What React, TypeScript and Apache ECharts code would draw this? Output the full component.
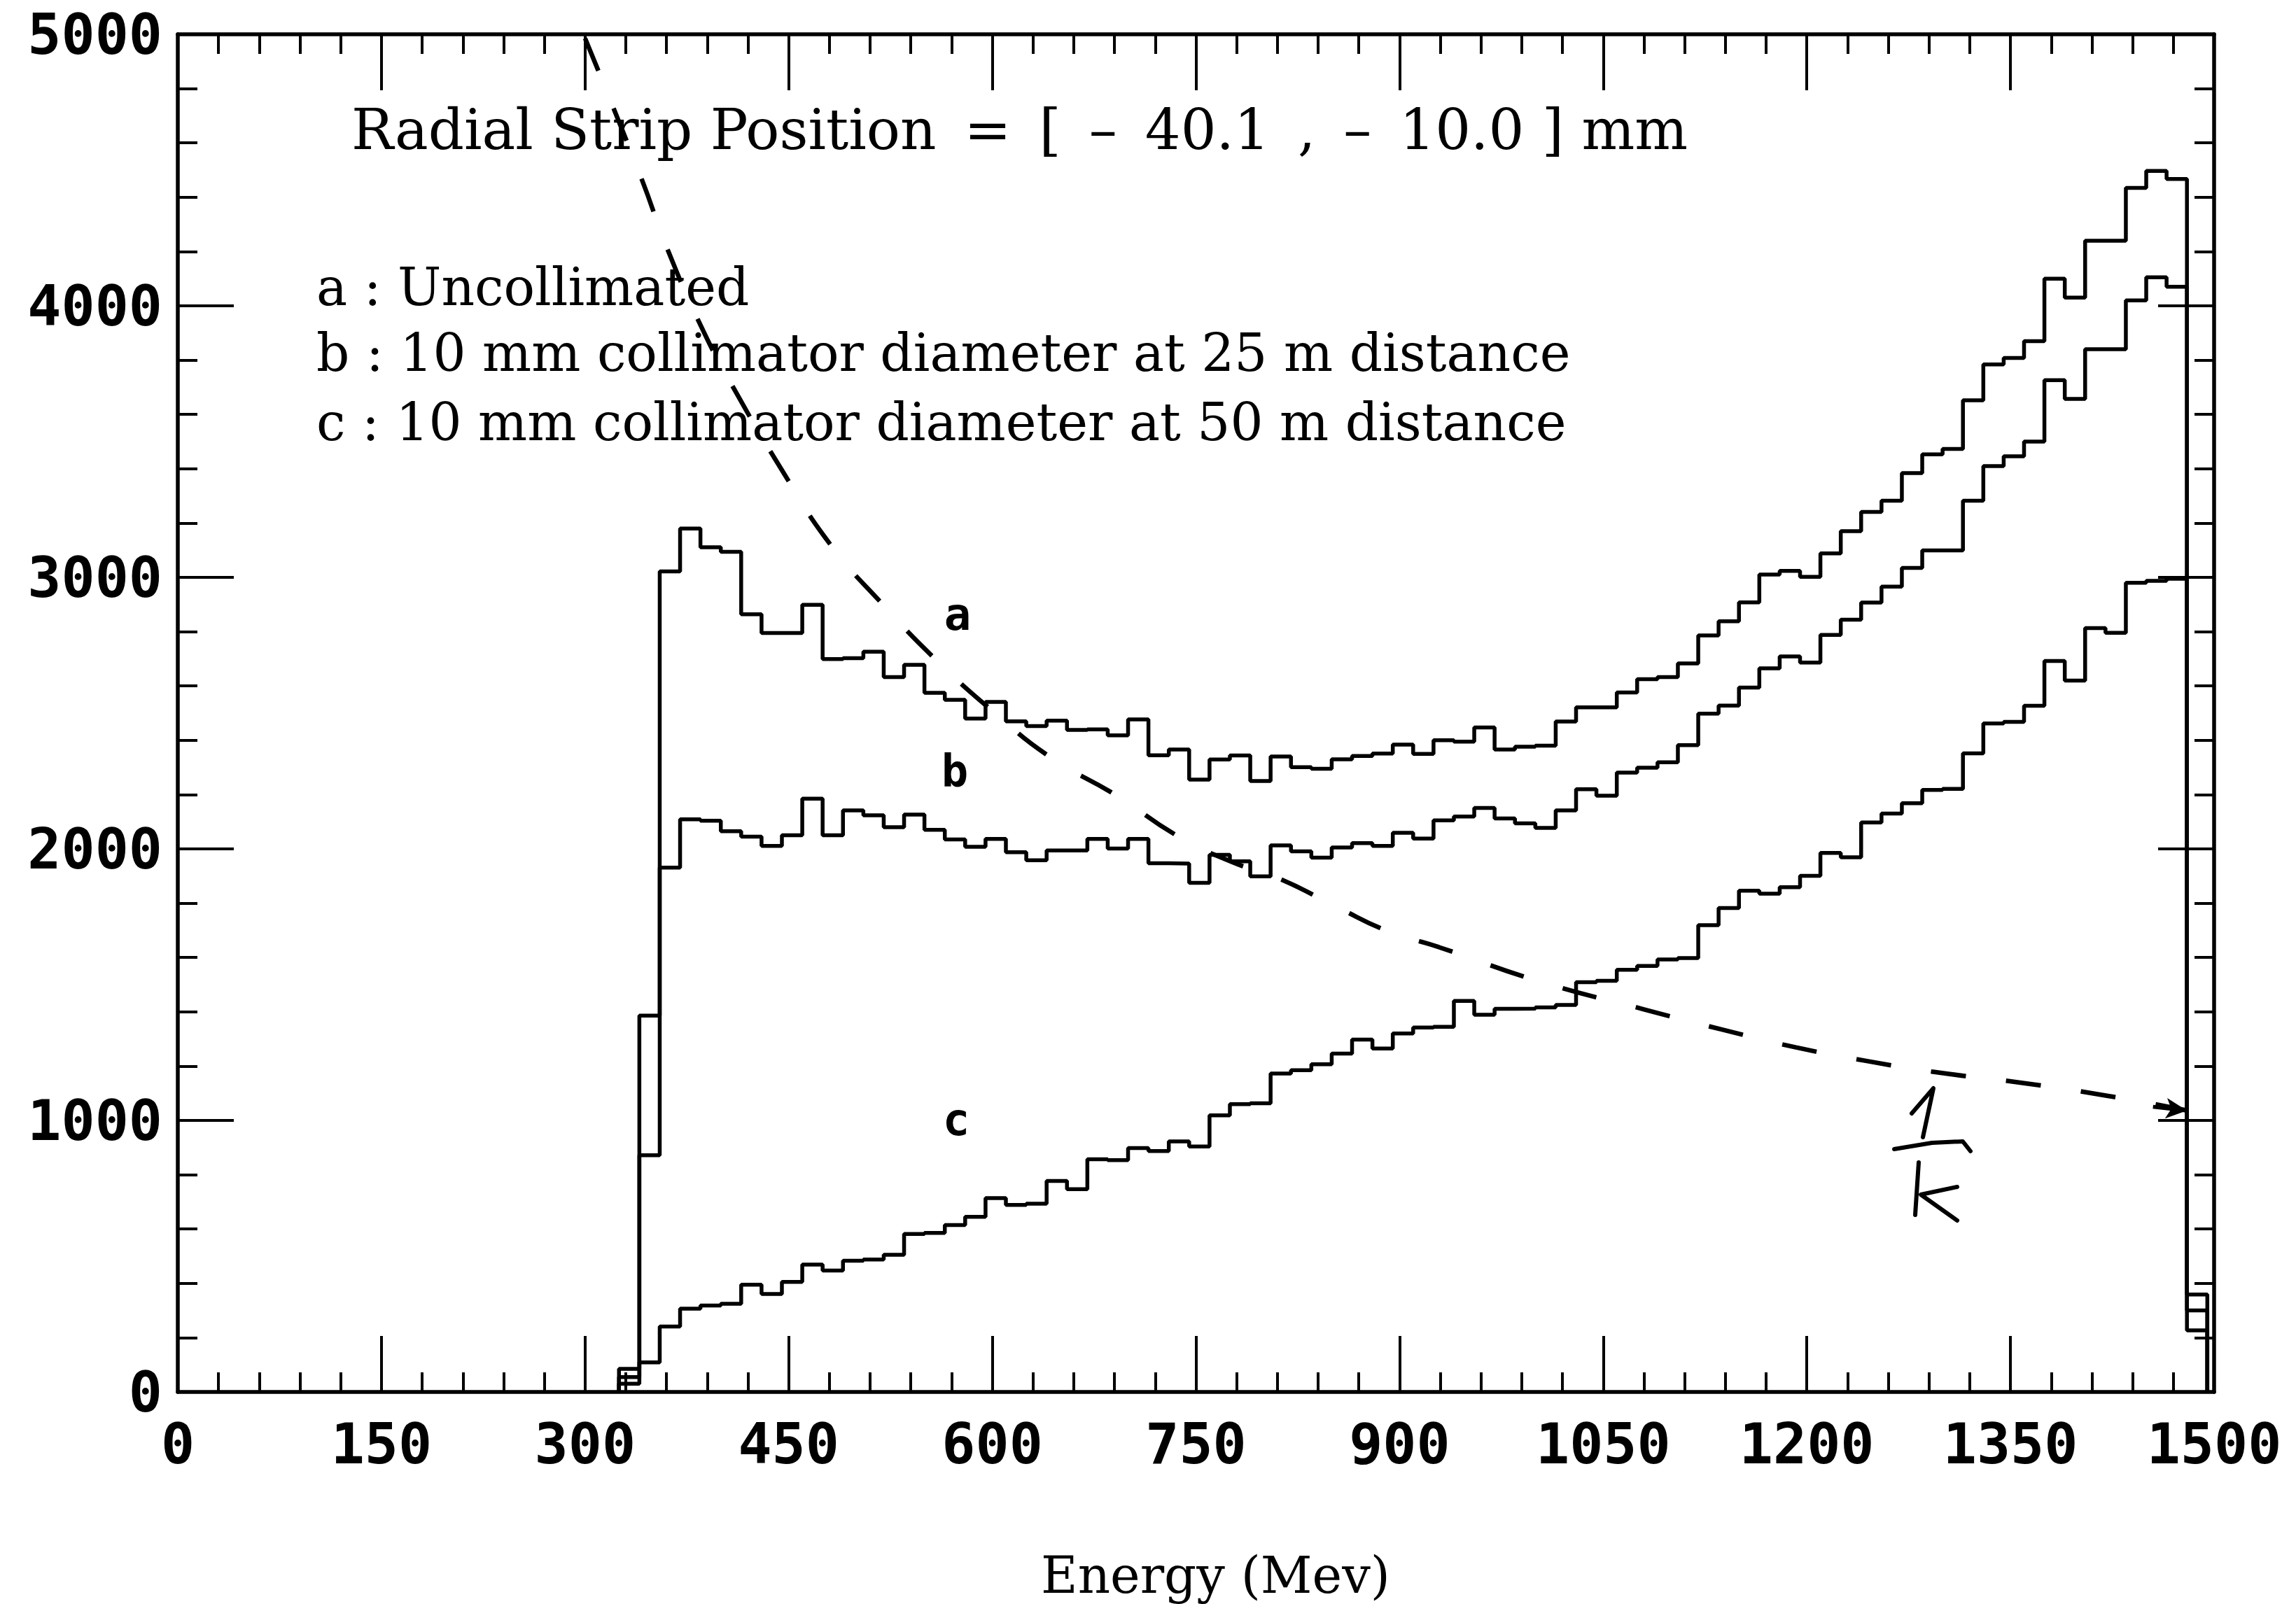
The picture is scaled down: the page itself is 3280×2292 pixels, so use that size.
import React, { useEffect, useRef } from "react";
import * as echarts from "echarts";

// Energy binning of the simulated spectra (MeV)
const BIN_START = 325;
const BIN_WIDTH = 15;

// a : uncollimated beam, counts per bin
const uncollimated = [
  85, 1386, 3022, 3180, 3111, 3094, 2864, 2795, 2795, 2899,
  2699, 2702, 2726, 2633, 2678, 2575, 2549, 2480, 2541, 2470,
  2452, 2472, 2438, 2440, 2418, 2477, 2345, 2366, 2255, 2329,
  2344, 2250, 2340, 2301, 2295, 2330, 2342, 2351, 2384, 2350,
  2400, 2395, 2447, 2366, 2376, 2380, 2469, 2521, 2521, 2576,
  2625, 2633, 2683, 2786, 2838, 2908, 3010, 3024, 3002, 3088,
  3170, 3241, 3282, 3384, 3453, 3473, 3652, 3784, 3808, 3870,
  4100, 4030, 4240, 4240, 4434, 4497, 4467, 359,
];

// b : 10 mm collimator at 25 m
const collimated25m = [
  55, 872, 1931, 2109, 2104, 2065, 2045, 2011, 2050, 2185,
  2050, 2142, 2124, 2080, 2126, 2070, 2035, 2008, 2037, 1988,
  1958, 1994, 1994, 2037, 2001, 2037, 1947, 1946, 1875, 1978,
  1954, 1899, 2013, 1991, 1968, 2005, 2021, 2011, 2059, 2038,
  2105, 2119, 2151, 2112, 2094, 2077, 2142, 2220, 2196, 2281,
  2299, 2319, 2382, 2498, 2528, 2594, 2665, 2709, 2686, 2788,
  2844, 2907, 2966, 3035, 3099, 3099, 3282, 3410, 3446, 3500,
  3726, 3657, 3840, 3840, 4020, 4105, 4070, 300,
];

// c : 10 mm collimator at 50 m
const collimated50m = [
  30, 109, 241, 307, 318, 325, 395, 361, 405, 469,
  447, 483, 488, 505, 582, 586, 615, 645, 714, 689,
  693, 777, 747, 857, 854, 898, 887, 923, 904, 1019,
  1060, 1063, 1173, 1185, 1207, 1246, 1298, 1265, 1320, 1342,
  1345, 1440, 1389, 1411, 1412, 1416, 1425, 1509, 1514, 1555,
  1569, 1593, 1598, 1719, 1782, 1846, 1835, 1859, 1901, 1985,
  1969, 2097, 2130, 2168, 2217, 2221, 2352, 2462, 2468, 2527,
  2692, 2620, 2813, 2796, 2980, 2987, 2995, 227,
];

// hand-drawn 1/k reference curve
const invKEnergy = [
  300, 341, 361, 386, 408, 445, 481, 519, 558, 602, 643, 691, 737, 776,
  812, 855, 891, 929, 1003, 1080, 1138, 1192, 1245, 1293, 1359, 1421, 1480,
];
const invKCounts = [
  4985, 4476, 4205, 3919, 3710, 3395, 3119, 2902, 2699, 2500, 2337, 2198,
  2046, 1953, 1889, 1783, 1698, 1638, 1512, 1409, 1334, 1269, 1218, 1179,
  1138, 1091, 1037,
];

// en spaces keep the wide typewriter spacing of the bracketed range
const SP = "\u2002";
const TITLE =
  ["Radial Strip Position", "=", "[", "\u2013", "40.1", ",", "\u2013", "10.0"].join(SP) + " ] mm";
const LEGEND = [
  "a : Uncollimated",
  "b : 10 mm collimator diameter at 25 m distance",
  "c : 10 mm collimator diameter at 50 m distance",
];

const PLOT_FONT = '"DejaVu Sans Mono", monospace';
const TEXT_FONT = '"DejaVu Serif", serif';

function histogram(values: number[]): number[][] {
  const pts: number[][] = [[BIN_START, 0]];
  values.forEach((v, i) => pts.push([BIN_START + i * BIN_WIDTH, v]));
  const end = BIN_START + values.length * BIN_WIDTH;
  pts.push([end, values[values.length - 1]]);
  pts.push([end, 0]);
  return pts;
}

function frameAxis(position: string, showLabels: boolean, interval: number, max: number) {
  return {
    type: "value",
    position,
    min: 0,
    max,
    interval,
    axisLine: { show: true, onZero: false, lineStyle: { color: "#000", width: 5.5 } },
    axisTick: { show: true, inside: true, length: 80, lineStyle: { color: "#000", width: 4 } },
    minorTick: { show: true, splitNumber: 5, length: 28, lineStyle: { color: "#000", width: 4 } },
    splitLine: { show: false },
    minorSplitLine: { show: false },
    axisLabel: {
      show: showLabels,
      color: "#000",
      fontFamily: PLOT_FONT,
      fontWeight: "bold",
      fontSize: 80,
      formatter: (v: number) => String(v),
    },
  };
}

function stepSeries(name: string, values: number[]) {
  return {
    name,
    type: "line",
    step: "end",
    xAxisIndex: 0,
    yAxisIndex: 0,
    symbol: "none",
    lineStyle: { color: "#000", width: 5.5 },
    data: histogram(values),
  };
}

function strokes(points: number[][]) {
  return {
    type: "polyline",
    shape: { points },
    style: { stroke: "#000", lineWidth: 6, fill: null, lineCap: "round", lineJoin: "round" },
    silent: true,
  };
}

export default function App() {
  const ref = useRef<HTMLDivElement>(null);

  useEffect(() => {
    if (!ref.current) return;
    const chart = echarts.init(ref.current, undefined, { renderer: "svg" });

    const bottomX: any = frameAxis("bottom", true, 150, 1500);
    bottomX.axisLabel.margin = 34;
    bottomX.name = "Energy (Mev)";
    bottomX.nameLocation = "middle";
    bottomX.nameGap = 262;
    bottomX.nameTextStyle = {
      color: "#000",
      fontFamily: TEXT_FONT,
      fontSize: 72,
      verticalAlign: "middle",
      padding: [0, 0, 0, 56],
    };
    const topX: any = frameAxis("top", false, 150, 1500);
    const leftY: any = frameAxis("left", true, 1000, 5000);
    leftY.axisLabel.margin = 22;
    const rightY: any = frameAxis("right", false, 1000, 5000);

    const textStyle = (text: string, x: number, y: number, size: number, family: string, align = "left", weight = "normal") => ({
      type: "text",
      silent: true,
      style: {
        text,
        x,
        y,
        fill: "#000",
        fontSize: size,
        fontFamily: family,
        fontWeight: weight,
        textAlign: align,
        textVerticalAlign: "middle",
      },
    });

    const option: any = {
      animation: false,
      backgroundColor: "#ffffff",
      grid: { left: 254, right: 117, top: 49, bottom: 303, containLabel: false },
      xAxis: [bottomX, topX],
      yAxis: [leftY, rightY],
      series: [
        stepSeries("a", uncollimated),
        stepSeries("b", collimated25m),
        stepSeries("c", collimated50m),
        {
          name: "1/k",
          type: "line",
          smooth: true,
          symbol: "none",
          xAxisIndex: 0,
          yAxisIndex: 0,
          lineStyle: { color: "#000", width: 6.5, type: [50, 58] },
          data: invKEnergy.map((e, i) => [e, invKCounts[i]]),
          markLine: {
            silent: true,
            symbol: ["none", "arrow"],
            symbolSize: [22, 30],
            label: { show: false },
            lineStyle: { type: "solid", color: "#000", width: 5.5 },
            data: [[{ coord: [1455, 1050] }, { coord: [1480, 1036] }]],
          },
        },
      ],
      graphic: [
        textStyle(TITLE, 502, 185, 80, TEXT_FONT),
        textStyle(LEGEND[0], 452, 410, 74, TEXT_FONT),
        textStyle(LEGEND[1], 452, 504, 74, TEXT_FONT),
        textStyle(LEGEND[2], 452, 603, 74, TEXT_FONT),
        textStyle("a", 1368, 878, 64, PLOT_FONT, "center", "bold"),
        textStyle("b", 1364, 1102, 64, PLOT_FONT, "center", "bold"),
        textStyle("c", 1366, 1600, 64, PLOT_FONT, "center", "bold"),
        // handwritten "1/k" next to the dashed curve
        strokes([[2731, 1591], [2762, 1555], [2747, 1625]]),
        strokes([[2706, 1642], [2760, 1633], [2804, 1631], [2815, 1645]]),
        strokes([[2741, 1661], [2736, 1736]]),
        strokes([[2796, 1696], [2744, 1707], [2796, 1744]]),
      ],
    };

    chart.setOption(option);
    return () => chart.dispose();
  }, []);

  return (
    <div
      ref={ref}
      style={{ position: "fixed", left: 0, top: 0, width: 3280, height: 2292, background: "#fff" }}
    />
  );
}
